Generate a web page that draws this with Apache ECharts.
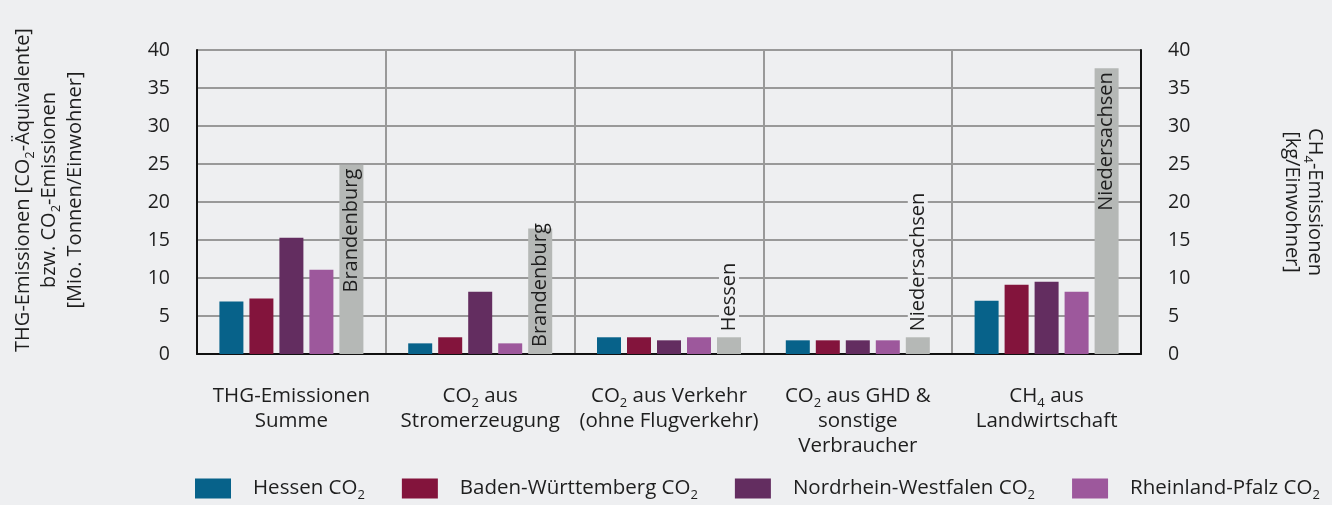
<!DOCTYPE html>
<html>
<head>
<meta charset="utf-8">
<script src="https://cdn.jsdelivr.net/npm/echarts@6/dist/echarts.min.js"></script>
<style>
  html, body { margin: 0; padding: 0; background: #eeeff1; }
  #chart { width: 1332px; height: 505px; }
</style>
</head>
<body>
<div id="chart"></div>
<script>
  // categories use {sub|..} for subscripts
  const categories = [
    'THG-Emissionen\nSumme',
    'CO{sub|2} aus\nStromerzeugung',
    'CO{sub|2} aus Verkehr\n(ohne Flugverkehr)',
    'CO{sub|2} aus GHD &\nsonstige\nVerbraucher',
    'CH{sub|4} aus\nLandwirtschaft'
  ]
  const hessen = [6.9, 1.4, 2.2, 1.8, 7.0]
  const badenWuerttemberg = [7.3, 2.2, 2.2, 1.8, 9.1]
  const nordrheinWestfalen = [15.3, 8.2, 1.8, 1.8, 9.5]
  const rheinlandPfalz = [11.1, 1.4, 2.2, 1.8, 8.2]
  const maxValues = [24.9, 16.5, 2.2, 2.2, 37.6]
  const maxStates = ['Brandenburg', 'Brandenburg', 'Hessen', 'Niedersachsen', 'Niedersachsen']
  const seriesNames = ['Hessen CO2', 'Baden-Württemberg CO2', 'Nordrhein-Westfalen CO2', 'Rheinland-Pfalz CO2']

  const font = 'Open Sans'
  const textColor = '#1e1e1e'
  const bg = '#eeeff1'
  const colors = ['#07628a', '#83143c', '#632d60', '#9d589c', '#b5b8b6']

  const sub = { fontSize: 13, fontFamily: font, color: textColor, padding: [14, 0, 0, 0] }

  // where the state name sits on the grey bar
  function maxLabel (v) {
    if (v >= 20) return { position: 'insideTop', align: 'right', verticalAlign: 'middle', distance: 4 }
    if (v >= 10) return { position: 'insideBottom', align: 'left', verticalAlign: 'middle', distance: 7 }
    return { position: 'top', align: 'left', verticalAlign: 'middle', distance: 4, backgroundColor: bg, padding: [0, 2, 0, 2] }
  }

  let chart = echarts.init(document.getElementById('chart'))
  let barBase = {
    type: 'bar',
    barWidth: 24,
    barGap: '25%'
  }
  let options = {
    backgroundColor: bg,
    textStyle: { fontFamily: font, color: textColor },
    animation: false,
    grid: { left: 197, right: 191, top: 50, bottom: 151, outerBoundsMode: 'none' },
    legend: {
      data: seriesNames,
      left: 190,
      top: 473,
      icon: 'rect',
      itemWidth: 36,
      itemHeight: 20,
      itemGap: 37,
      formatter: n => n.replace('CO2', 'CO{sub|2}'),
      textStyle: {
        fontSize: 20.5,
        fontFamily: font,
        color: textColor,
        padding: [0, 0, 0, 17],
        rich: { sub: sub }
      }
    },
    xAxis: {
      type: 'category',
      data: categories,
      axisLine: { lineStyle: { color: '#111', width: 2 } },
      axisTick: { show: false },
      splitLine: { show: true, lineStyle: { color: '#999', width: 2 } },
      axisLabel: {
        interval: 0,
        fontSize: 20.5,
        lineHeight: 25,
        color: textColor,
        margin: 30,
        rich: { sub: sub }
      }
    },
    yAxis: [{
      type: 'value',
      min: 0,
      max: 40,
      interval: 5,
      position: 'left',
      axisLine: { show: true, lineStyle: { color: '#111', width: 2 } },
      axisTick: { show: false },
      axisLabel: { fontSize: 19.5, color: textColor, margin: 27 },
      splitLine: { lineStyle: { color: '#999', width: 2 } },
      name: 'THG-Emissionen [CO{sub|2}-Äquivalente]\nbzw. CO{sub|2}-Emissionen\n[Mio. Tonnen/Einwohner]',
      nameLocation: 'middle',
      nameRotate: 90,
      nameGap: 109,
      nameTextStyle: { fontSize: 20, lineHeight: 26, color: textColor, padding: [0, 0, 0, 24], rich: { sub: sub } }
    }, {
      type: 'value',
      min: 0,
      max: 40,
      interval: 5,
      position: 'right',
      axisLine: { show: true, lineStyle: { color: '#111', width: 2 } },
      axisTick: { show: false },
      axisLabel: { fontSize: 19.5, color: textColor, margin: 27 },
      splitLine: { show: false },
      name: 'CH{sub|4}-Emissionen\n[kg/Einwohner]',
      nameLocation: 'middle',
      nameRotate: -90,
      nameGap: 139,
      nameTextStyle: { fontSize: 20, lineHeight: 23, color: textColor, rich: { sub: sub } }
    }],
    series: [
      Object.assign({}, barBase, { name: seriesNames[0], data: hessen, itemStyle: { color: colors[0] } }),
      Object.assign({}, barBase, { name: seriesNames[1], data: badenWuerttemberg, itemStyle: { color: colors[1] } }),
      Object.assign({}, barBase, { name: seriesNames[2], data: nordrheinWestfalen, itemStyle: { color: colors[2] } }),
      Object.assign({}, barBase, { name: seriesNames[3], data: rheinlandPfalz, itemStyle: { color: colors[3] } }),
      Object.assign({}, barBase, {
        name: 'Maximum',
        data: maxValues.map(v => ({ value: v, label: maxLabel(v) })),
        itemStyle: { color: colors[4] },
        label: {
          show: true,
          rotate: 90,
          fontSize: 20,
          fontFamily: font,
          color: textColor,
          formatter: p => maxStates[p.dataIndex]
        }
      })
    ]
  }
  chart.setOption(options)
</script>
</body>
</html>
